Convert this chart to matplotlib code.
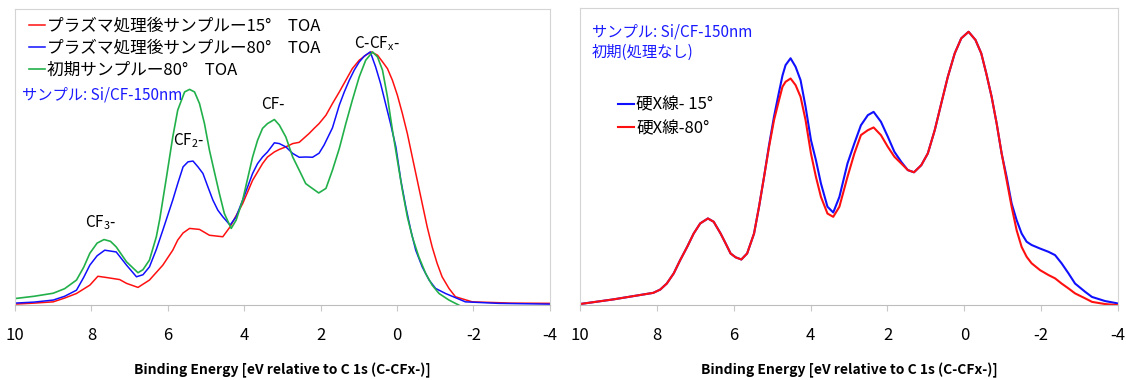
import matplotlib.pyplot as plt

plt.rcParams['font.family'] = ['Noto Sans CJK JP', 'DejaVu Sans']

# left panel: C 1s spectra, plasma treated vs initial (normalized intensity)
e_red = [10, 9.5, 9.0, 8.7, 8.39, 8.04, 7.83, 7.6, 7.26, 7.08, 6.78, 6.48, 6.13, 5.87, 5.74,
         5.6, 5.43, 5.17, 4.91, 4.56, 4.37, 4.04, 3.78, 3.52, 3.39, 3.21, 3.08, 2.91, 2.73,
         2.56, 2.3, 2.17, 2.04, 1.86, 1.69, 1.51, 1.34, 1.17, 0.99, 0.82, 0.68, 0.51, 0.38,
         0.25, 0.12, -0.01, -0.14, -0.27, -0.40, -0.53, -0.66, -0.79, -0.92, -1.05, -1.18,
         -1.36, -1.53, -1.97, -3.0, -4.0]
i_red = [0.004, 0.008, 0.013, 0.028, 0.046, 0.079, 0.114, 0.109, 0.101, 0.086, 0.070, 0.099,
         0.158, 0.217, 0.257, 0.285, 0.303, 0.299, 0.276, 0.270, 0.309, 0.401, 0.493, 0.559,
         0.585, 0.605, 0.615, 0.625, 0.638, 0.643, 0.678, 0.698, 0.717, 0.750, 0.796, 0.842,
         0.888, 0.934, 0.967, 0.987, 1.0, 0.987, 0.961, 0.934, 0.888, 0.829, 0.757, 0.678,
         0.585, 0.493, 0.401, 0.309, 0.230, 0.165, 0.112, 0.066, 0.033, 0.013, 0.008, 0.007]

e_blue = [10, 9.5, 9.0, 8.7, 8.39, 8.2, 8.04, 7.85, 7.65, 7.35, 7.08, 6.82, 6.65, 6.48, 6.3,
          6.13, 5.87, 5.74, 5.6, 5.47, 5.34, 5.21, 5.08, 4.95, 4.82, 4.69, 4.56, 4.37, 4.21,
          4.04, 3.91, 3.78, 3.65, 3.52, 3.39, 3.21, 3.08, 2.91, 2.73, 2.56, 2.39, 2.21, 2.04,
          1.91, 1.69, 1.51, 1.38, 1.25, 1.12, 0.99, 0.86, 0.70, 0.56, 0.43, 0.30, 0.17, 0.03,
          -0.10, -0.23, -0.36, -0.49, -0.66, -0.84, -1.01, -1.27, -1.79, -2.66, -4.0]
i_blue = [0.008, 0.012, 0.020, 0.035, 0.059, 0.110, 0.158, 0.195, 0.217, 0.210, 0.158, 0.112,
          0.120, 0.151, 0.220, 0.296, 0.415, 0.480, 0.546, 0.566, 0.569, 0.546, 0.520, 0.467,
          0.415, 0.375, 0.349, 0.316, 0.349, 0.415, 0.467, 0.520, 0.559, 0.585, 0.605, 0.641,
          0.638, 0.625, 0.599, 0.584, 0.585, 0.584, 0.600, 0.632, 0.700, 0.790, 0.842, 0.888,
          0.928, 0.960, 0.983, 1.0, 0.941, 0.875, 0.796, 0.717, 0.625, 0.493, 0.388, 0.296,
          0.217, 0.151, 0.099, 0.066, 0.046, 0.013, 0.007, 0.004]

e_green = [10, 9.5, 9.0, 8.7, 8.39, 8.2, 8.04, 7.85, 7.67, 7.5, 7.35, 7.08, 6.78, 6.65, 6.48,
           6.3, 6.21, 6.04, 5.87, 5.74, 5.56, 5.43, 5.30, 5.17, 5.04, 4.91, 4.78, 4.65, 4.52,
           4.34, 4.21, 4.04, 3.91, 3.78, 3.65, 3.52, 3.39, 3.21, 3.08, 2.91, 2.73, 2.56, 2.39,
           2.30, 2.05, 1.86, 1.69, 1.51, 1.34, 1.17, 0.99, 0.82, 0.64, 0.51, 0.38, 0.25, 0.12,
           -0.01, -0.14, -0.27, -0.40, -0.57, -0.75, -0.92, -1.10, -1.36, -1.62]
i_green = [0.026, 0.035, 0.047, 0.065, 0.099, 0.150, 0.205, 0.245, 0.259, 0.252, 0.230, 0.171,
           0.128, 0.140, 0.178, 0.270, 0.340, 0.500, 0.664, 0.770, 0.842, 0.852, 0.842, 0.796,
           0.717, 0.612, 0.526, 0.441, 0.362, 0.303, 0.336, 0.415, 0.500, 0.585, 0.651, 0.698,
           0.717, 0.733, 0.711, 0.664, 0.585, 0.533, 0.480, 0.470, 0.443, 0.461, 0.533, 0.619,
           0.717, 0.809, 0.901, 0.967, 1.0, 0.980, 0.928, 0.822, 0.691, 0.572, 0.454, 0.349,
           0.270, 0.191, 0.125, 0.079, 0.046, 0.020, 0.0]

# right panel: hard X-ray spectra, initial sample
e_hx = [10, 9.13, 8.09, 7.91, 7.74, 7.56, 7.39, 7.21, 7.04, 6.87, 6.67, 6.52, 6.34, 6.21, 6.08,
        5.95, 5.80, 5.65, 5.47, 5.34, 5.21, 5.08, 4.95, 4.82, 4.73, 4.65, 4.52, 4.39, 4.26,
        4.13, 3.99, 3.86, 3.73, 3.56, 3.41, 3.25, 3.04, 2.86, 2.69, 2.51, 2.36, 2.17, 1.99,
        1.82, 1.64, 1.47, 1.31, 1.12, 0.95, 0.77, 0.60, 0.43, 0.25, 0.08, -0.11, -0.29, -0.44,
        -0.57, -0.71, -0.84, -0.97, -1.10, -1.23, -1.36, -1.49, -1.62, -1.75, -1.97, -2.19,
        -2.36, -2.53, -2.71, -2.88, -3.14, -3.32, -3.66, -4.0]
i_hx15 = [0.004, 0.021, 0.045, 0.057, 0.079, 0.116, 0.165, 0.213, 0.262, 0.299, 0.317, 0.305,
          0.262, 0.226, 0.189, 0.175, 0.167, 0.189, 0.262, 0.360, 0.469, 0.585, 0.690, 0.780,
          0.840, 0.878, 0.903, 0.872, 0.823, 0.726, 0.604, 0.530, 0.445, 0.360, 0.339, 0.396,
          0.518, 0.592, 0.658, 0.695, 0.707, 0.671, 0.616, 0.561, 0.524, 0.494, 0.486, 0.512,
          0.555, 0.640, 0.738, 0.835, 0.921, 0.976, 1.0, 0.970, 0.921, 0.848, 0.762, 0.665,
          0.555, 0.469, 0.372, 0.311, 0.262, 0.232, 0.220, 0.207, 0.195, 0.183, 0.153, 0.116,
          0.079, 0.049, 0.030, 0.015, 0.006]
i_hx80 = [0.004, 0.021, 0.045, 0.057, 0.079, 0.116, 0.165, 0.213, 0.262, 0.299, 0.317, 0.305,
          0.262, 0.226, 0.189, 0.175, 0.167, 0.189, 0.262, 0.360, 0.469, 0.579, 0.677, 0.750,
          0.799, 0.817, 0.829, 0.805, 0.762, 0.677, 0.555, 0.469, 0.396, 0.335, 0.323, 0.360,
          0.469, 0.555, 0.622, 0.640, 0.650, 0.622, 0.579, 0.543, 0.518, 0.494, 0.486, 0.512,
          0.555, 0.640, 0.738, 0.835, 0.921, 0.976, 1.0, 0.970, 0.921, 0.848, 0.762, 0.665,
          0.555, 0.457, 0.360, 0.274, 0.213, 0.177, 0.153, 0.128, 0.110, 0.098, 0.079, 0.061,
          0.043, 0.025, 0.012, 0.004, 0.0]

xticks = [10, 8, 6, 4, 2, 0, -2, -4]
xlabel = 'Binding Energy [eV relative to C 1s (C-CFx-)]'

fig = plt.figure(figsize=(11.26, 3.8), dpi=100)
ax1 = fig.add_axes([0.0133, 0.197, 0.475, 0.779])
ax2 = fig.add_axes([0.515, 0.197, 0.478, 0.782])

ax1.plot(e_red, i_red, color='#ff1010', lw=1.1, label='プラズマ処理後サンプルー15°　TOA')
ax1.plot(e_blue, i_blue, color='#1010ff', lw=1.1, label='プラズマ処理後サンプルー80°　TOA')
ax1.plot(e_green, i_green, color='#22b04a', lw=1.2, label='初期サンプルー80°　TOA')
ax1.set_ylim(0, 1.169)

ax2.plot(e_hx, i_hx15, color='#1010ff', lw=1.5, label='硬X線- 15°')
ax2.plot(e_hx, i_hx80, color='#ff1010', lw=1.5, label='硬X線-80°')
ax2.set_ylim(0, 1.087)

for ax in (ax1, ax2):
    ax.set_xlim(10, -4)
    ax.set_xticks(xticks)
    ax.set_xticklabels([str(t) for t in xticks], fontsize=12)
    ax.set_yticks([])
    ax.tick_params(axis='x', length=4, color='#c8c8c8', pad=12)
    for s in ax.spines.values():
        s.set_color('#d4d4d4')
    ax.spines['bottom'].set_color('#bdbdbd')
    ax.set_xlabel(xlabel, fontsize=10, fontweight='bold', labelpad=13)

ax1.legend(loc='upper left', bbox_to_anchor=(0.01, 1.0), frameon=False, fontsize=12,
           handlelength=1.0, handletextpad=0.1, labelspacing=0.3, borderaxespad=0.1)
ax1.text(0.013, 0.71, 'サンプル: Si/CF-150nm', transform=ax1.transAxes, color='#1a1aff',
         fontsize=11, va='center')
ax1.text(0.634, 0.885, r'C-CF$_\mathregular{x}$-', transform=ax1.transAxes, fontsize=11, va='center')
ax1.text(0.46, 0.677, 'CF-', transform=ax1.transAxes, fontsize=11, va='center')
ax1.text(0.295, 0.555, r'CF$_\mathregular{2}$-', transform=ax1.transAxes, fontsize=11, va='center')
ax1.text(0.13, 0.28, r'CF$_\mathregular{3}$-', transform=ax1.transAxes, fontsize=11, va='center')

ax2.text(0.022, 0.92, 'サンプル: Si/CF-150nm', transform=ax2.transAxes, color='#1a1aff',
         fontsize=11, va='center')
ax2.text(0.022, 0.852, '初期(処理なし)', transform=ax2.transAxes, color='#1a1aff',
         fontsize=11, va='center')
ax2.legend(loc='upper left', bbox_to_anchor=(0.055, 0.73), frameon=False, fontsize=12,
           handlelength=1.0, handletextpad=0.1, labelspacing=0.4, borderaxespad=0.1)

fig.savefig('out.png', dpi=100)
